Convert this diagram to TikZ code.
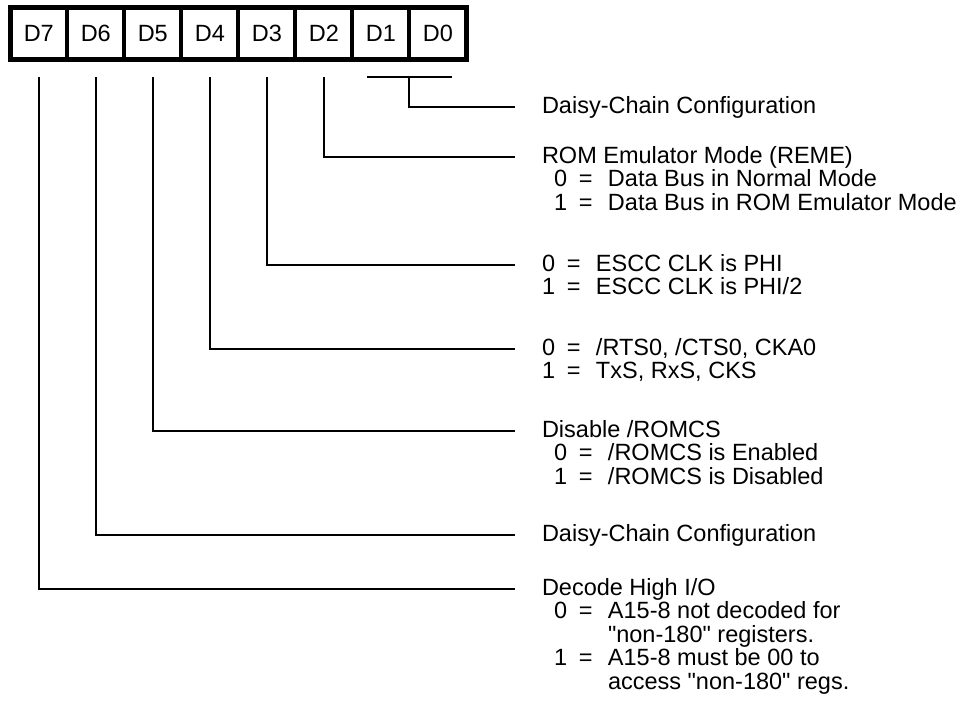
\documentclass[tikz,border=0pt]{standalone}
\usepackage{fontspec}
\setmainfont{Liberation Sans}
\usetikzlibrary{positioning}
\newcommand{\bitval}[2]{\makebox[25pt][l]{#1}\makebox[29pt][l]{=}#2}
\newcommand{\contline}[1]{\hspace*{54pt}#1}
\newcommand{\dq}{\textquotedbl}

\begin{document}
\begin{tikzpicture}[x=1pt,y=-1pt]
\tikzset{
  bitcell/.style={draw,line width=4pt,minimum width=57pt,minimum height=52pt,inner sep=0pt,outer sep=0pt,font=\fontsize{23.5}{28}\selectfont},
  desc/.style={inner sep=0pt,outer sep=0pt,text height=17pt,text depth=5pt,font=\fontsize{23.5}{28}\selectfont},
  bitline/.style={line width=2pt},
  regframe/.style={line width=5pt}
}
\useasboundingbox (0,0) rectangle (968,715);
% register cells
\node[bitcell] (n_d7) at (38.8,33.5) {D7};
\node[bitcell,right=0pt of n_d7] (n_d6) {D6};
\node[bitcell,right=0pt of n_d6] (n_d5) {D5};
\node[bitcell,right=0pt of n_d5] (n_d4) {D4};
\node[bitcell,right=0pt of n_d4] (n_d3) {D3};
\node[bitcell,right=0pt of n_d3] (n_d2) {D2};
\node[bitcell,right=0pt of n_d2] (n_d1) {D1};
\node[bitcell,right=0pt of n_d1] (n_d0) {D0};
\draw[regframe] (n_d7.north west) rectangle (n_d0.south east);
% descriptions
\node[desc,anchor=west] (n_h0) at (542,107) {Daisy-Chain Configuration};
\node[desc,anchor=west] (n_h2) at (542,157) {ROM Emulator Mode (REME)};
\node[desc,below right=1.5pt and 12pt of n_h2.south west] (n_h2a) {\bitval{0}{Data Bus in Normal Mode}};
\node[desc,below=1.5pt of n_h2a.south west,anchor=north west] (n_h2b) {\bitval{1}{Data Bus in ROM Emulator Mode}};
\node[desc,anchor=west] (n_h3) at (542,265) {\bitval{0}{ESCC CLK is PHI}};
\node[desc,below=1.5pt of n_h3.south west,anchor=north west] (n_h3b) {\bitval{1}{ESCC CLK is PHI/2}};
\node[desc,anchor=west] (n_h4) at (542,349) {\bitval{0}{/RTS0, /CTS0, CKA0}};
\node[desc,below=1.5pt of n_h4.south west,anchor=north west] (n_h4b) {\bitval{1}{TxS, RxS, CKS}};
\node[desc,anchor=west] (n_h5) at (542,431) {Disable /ROMCS};
\node[desc,below right=1.5pt and 12pt of n_h5.south west] (n_h5a) {\bitval{0}{/ROMCS is Enabled}};
\node[desc,below=1.5pt of n_h5a.south west,anchor=north west] (n_h5b) {\bitval{1}{/ROMCS is Disabled}};
\node[desc,anchor=west] (n_h6) at (542,535) {Daisy-Chain Configuration};
\node[desc,anchor=west] (n_h7) at (542,589) {Decode High I/O};
\node[desc,below right=1.5pt and 12pt of n_h7.south west] (n_h7a) {\bitval{0}{A15-8 not decoded for}};
\node[desc,below=1.5pt of n_h7a.south west,anchor=north west] (n_h7b) {\contline{\dq non-180\dq{} registers.}};
\node[desc,below=1.5pt of n_h7b.south west,anchor=north west] (n_h7c) {\bitval{1}{A15-8 must be 00 to}};
\node[desc,below=1.5pt of n_h7c.south west,anchor=north west] (n_h7d) {\contline{access \dq non-180\dq{} regs.}};
% bit lines
\coordinate (c_split) at ([yshift=-17.5pt]n_d0.south west);
\draw[bitline] ([xshift=-42pt]c_split) -- ([xshift=43pt]c_split);
\draw[bitline,shorten >=27pt] (c_split) |- (n_h0.west);
\foreach \b in {2,...,7}
  \draw[bitline,shorten <=17.5pt,shorten >=27pt] (n_d\b.south) |- (n_h\b.west);
\end{tikzpicture}
\end{document}
